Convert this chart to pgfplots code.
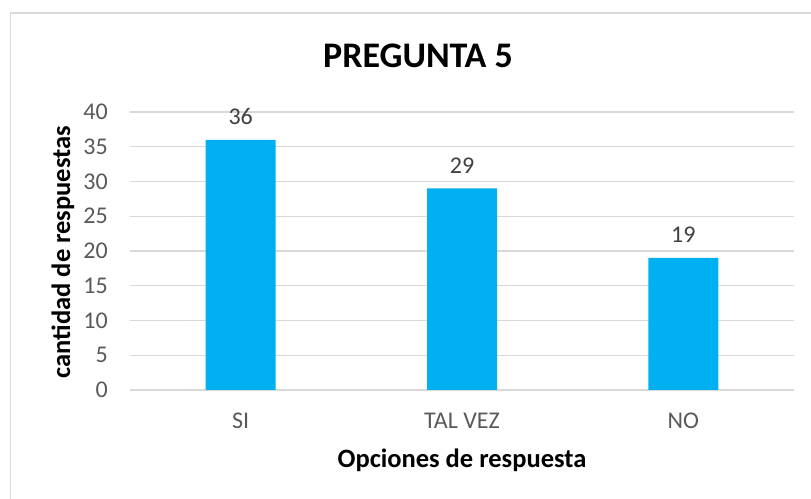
\documentclass[border=0pt]{standalone}
\usepackage{fontspec}
\setmainfont{Carlito}
\usepackage{pgfplots}
\pgfplotsset{compat=1.18}
\definecolor{barblue}{HTML}{00B0F0}
\definecolor{gridgray}{HTML}{D9D9D9}
\definecolor{ticktext}{HTML}{595959}
\definecolor{valtext}{HTML}{404040}
\begin{document}
\begin{tikzpicture}
\path[use as bounding box] (0,0) rectangle (811bp,499bp);
% chart frame, cut at the right and bottom edges
\draw[gridgray,line width=1.3bp] (10.5bp,0) |- (811bp,486bp);
\begin{axis}[
 at={(130bp,109bp)},anchor=south west,
 scale only axis,width=664bp,height=278bp,
 ybar,bar width=70bp,
 xmin=-0.5,xmax=2.5,ymin=0,ymax=40,
 xtick={0,1,2},xticklabels={SI,TAL VEZ,NO},
 ytick={0,5,...,40},
 axis x line*=bottom,axis y line*=left,
 x axis line style={draw=gridgray,line width=1.3bp,-},
 y axis line style={draw=none},
 major tick length=0pt,
 ymajorgrids,grid style={draw=gridgray,line width=1.3bp},
 /pgf/number format/assume math mode=true,
 ticklabel style={font=\fontsize{24bp}{28bp}\selectfont,text=ticktext,inner sep=0pt},
 yticklabel style={anchor=east,xshift=-22bp},
 xticklabel style={anchor=north,yshift=-23bp},
 nodes near coords,
 every node near coord/.append style={font=\fontsize{24bp}{28bp}\selectfont,text=valtext,anchor=south,inner sep=0pt,yshift=15bp},
]
\addplot[fill=barblue,draw=none] coordinates {(0,36) (1,29) (2,19)};
\end{axis}
\node[anchor=base,font=\fontsize{36bp}{40bp}\selectfont\bfseries] at (418bp,431bp) {PREGUNTA 5};
\node[anchor=base,font=\fontsize{26.5bp}{30bp}\selectfont\bfseries] at (462bp,32bp) {Opciones de respuesta};
\node[anchor=base,rotate=90,font=\fontsize{26.5bp}{30bp}\selectfont\bfseries] at (70bp,247bp) {cantidad de respuestas};
\end{tikzpicture}
\end{document}
